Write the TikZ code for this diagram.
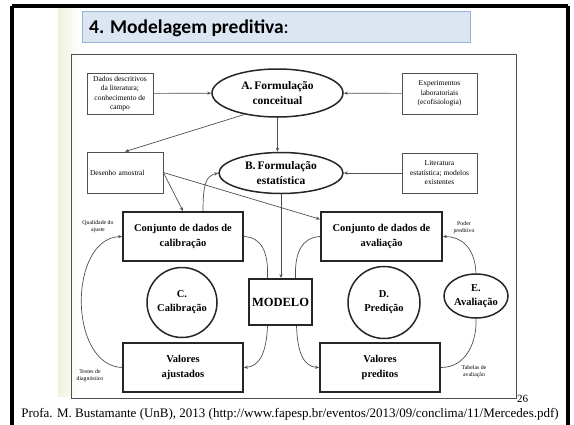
\documentclass[tikz,border=0pt]{standalone}
\usepackage{fontspec}
\setmainfont{Liberation Serif}
\newfontfamily\titlefont{Carlito}
\usetikzlibrary{shapes.geometric,arrows.meta,calc}

\definecolor{titlefill}{HTML}{DCE6F2}
\definecolor{titleline}{HTML}{95B3D7}
\definecolor{linegray}{HTML}{505050}
\definecolor{paper}{HTML}{F1F0DE}

\tikzset{
  thinbox/.style={draw=linegray, line width=0.8pt, align=center, inner sep=1pt,
    font=\fontsize{7.5}{9.5}\selectfont},
  thickbox/.style={draw=black!85, line width=1.8pt, align=center, inner sep=1pt,
    font=\bfseries\fontsize{10.5}{15}\selectfont},
  stage/.style={ellipse, draw=black!85, line width=1.5pt, align=center, inner sep=0pt,
    font=\bfseries\fontsize{10.5}{14}\selectfont},
  formula/.style={stage, font=\bfseries\fontsize{11.5}{15}\selectfont},
  note/.style={align=center, inner sep=0pt, font=\fontsize{5.8}{7}\selectfont},
  conn/.style={draw=linegray, line width=0.7pt},
  arr/.style={conn, -{Stealth[length=4pt,width=3.2pt]}}
}

\begin{document}
\begin{tikzpicture}[x=1pt,y=-1pt]
\useasboundingbox (0,0) rectangle (574,424);
\fill[white] (0,0) rectangle (574,424);

% slide paper
\shade[left color=paper, right color=white] (58,7) rectangle (80,396);

% outer slide frame
\draw[line width=4pt, black] (12,5.5) -- (568,5.5);
\draw[line width=4pt, black] (12,5.5) -- (12,430);
\draw[line width=4pt, black] (568,5.5) -- (568,430);

% title bar
\node[draw=titleline, fill=titlefill, line width=0.8pt, minimum width=388pt,
      minimum height=31pt, inner sep=0pt] (titlebar) at (276,26.5) {};
\node[anchor=base west, inner sep=0pt, font=\titlefont\fontsize{19.5}{22}\selectfont]
      (title) at (89,33.5) {\bfseries 4. Modelagem preditiva\mdseries:};

% diagram frame
\draw[draw=linegray, line width=0.7pt] (71,54) rectangle (516,398);

% sources
\node[thinbox, minimum width=66pt, minimum height=41pt] (dados) at (120,93.5)
  {Dados descritivos\\da literatura;\\conhecimento de\\campo};
\node[thinbox, minimum width=75pt, minimum height=41pt] (expr) at (439.5,93.5)
  {Experimentos\\laboratoriais\\(ecofisiologia)};
\node[thinbox, minimum width=76pt, minimum height=41pt, text width=70pt, align=left,
      inner xsep=3pt] (desenho) at (125,172.5) {Desenho amostral\\[3pt]};
\node[thinbox, minimum width=75pt, minimum height=40pt] (lit) at (439.5,173)
  {Literatura\\estatística; modelos\\existentes};

% formulation stages
\node[formula, minimum width=131pt, minimum height=48pt] (A) at (277.5,93)
  {A.\,Formulação\\conceitual};
\node[formula, minimum width=124pt, minimum height=41pt] (B) at (281,173)
  {B.\,Formulação\\estatística};

% data sets
\node[thickbox, minimum width=120pt, minimum height=49pt] (cal) at (183,236.5)
  {Conjunto de dados de\\calibração};
\node[thickbox, minimum width=121pt, minimum height=49pt] (aval) at (381.5,236.5)
  {Conjunto de dados de\\avaliação};

% model and stages
\node[thickbox, minimum width=63pt, minimum height=46pt, font=\bfseries\fontsize{12.5}{15}\selectfont]
  (modelo) at (280.5,302) {MODELO};
\node[stage, circle, minimum size=70pt] (C) at (182,302.5) {C.\\Calibração};
\node[stage, circle, minimum size=72pt] (D) at (384,302.5) {D.\\Predição};
\node[stage, minimum width=64pt, minimum height=44pt] (E) at (476,296) {E.\\Avaliação};

% outputs
\node[thickbox, minimum width=120pt, minimum height=49pt] (vaj) at (183,367.5)
  {Valores\\ajustados};
\node[thickbox, minimum width=120pt, minimum height=49pt] (vpr) at (380,367.5)
  {Valores\\preditos};

% side notes
\node[note] (qual) at (98,227) {Qualidade do\\ajuste};
\node[note] (testes) at (90,376) {Testes de\\diagnóstico};
\node[note] (poder) at (464,228) {Poder\\preditivo};
\node[note] (tabelas) at (474,372) {Tabelas de\\avaliação};

% connectors between the upper blocks
\draw[arr] (dados) -- (A);
\draw[arr] (expr) -- (A);
\draw[arr] (lit) -- (B);
\draw[arr] (A.south) -- (A.south |- B.north);
\draw[arr] (A.213) -- (desenho.north);
\draw[arr] (desenho.east) -- (cal.north);
\draw[arr] (desenho.east) -- ($(aval.north west)!0.16!(aval.south west)$);
\draw[arr] ([xshift=20pt]cal.north) .. controls +(0,-28) and +(-12,3) .. (B.west);
\draw[arr] (B.south) -- (B.south |- modelo.north);

% model links
\draw[conn] (cal.east) .. controls +(18,1) and +(1,-26) .. ([xshift=-13pt]modelo.north);
\draw[conn] (aval.west) .. controls +(-18,1) and +(-1,-26) .. ([xshift=15pt]modelo.north);
\draw[arr] ([xshift=-13pt]modelo.south) .. controls +(-1,26) and +(16,-1) .. (vaj.east);
\draw[arr] ([xshift=16pt]modelo.south) .. controls +(1,26) and +(-16,-1) .. (vpr.west);

% calibration loop
\draw[arr] (vaj.west) .. controls +(-54,-2) and +(-54,2) .. (cal.west);

% evaluation loop
\draw[conn] (vpr.east) .. controls +(26,0) and +(1,22) .. (E.south);
\draw[arr] (E.north) .. controls +(-1,-26) and +(18,0) .. (aval.east);

% page number and credit
\node[anchor=base west, inner sep=0pt, font=\fontsize{11}{13}\selectfont] (page) at (517,402) {26};
\node[anchor=base, inner sep=0pt, font=\fontsize{13}{15}\selectfont] (credit) at (290,417)
  {Profa. M. Bustamante (UnB), 2013 (http://www.fapesp.br/eventos/2013/09/conclima/11/Mercedes.pdf)};
\end{tikzpicture}
\end{document}
